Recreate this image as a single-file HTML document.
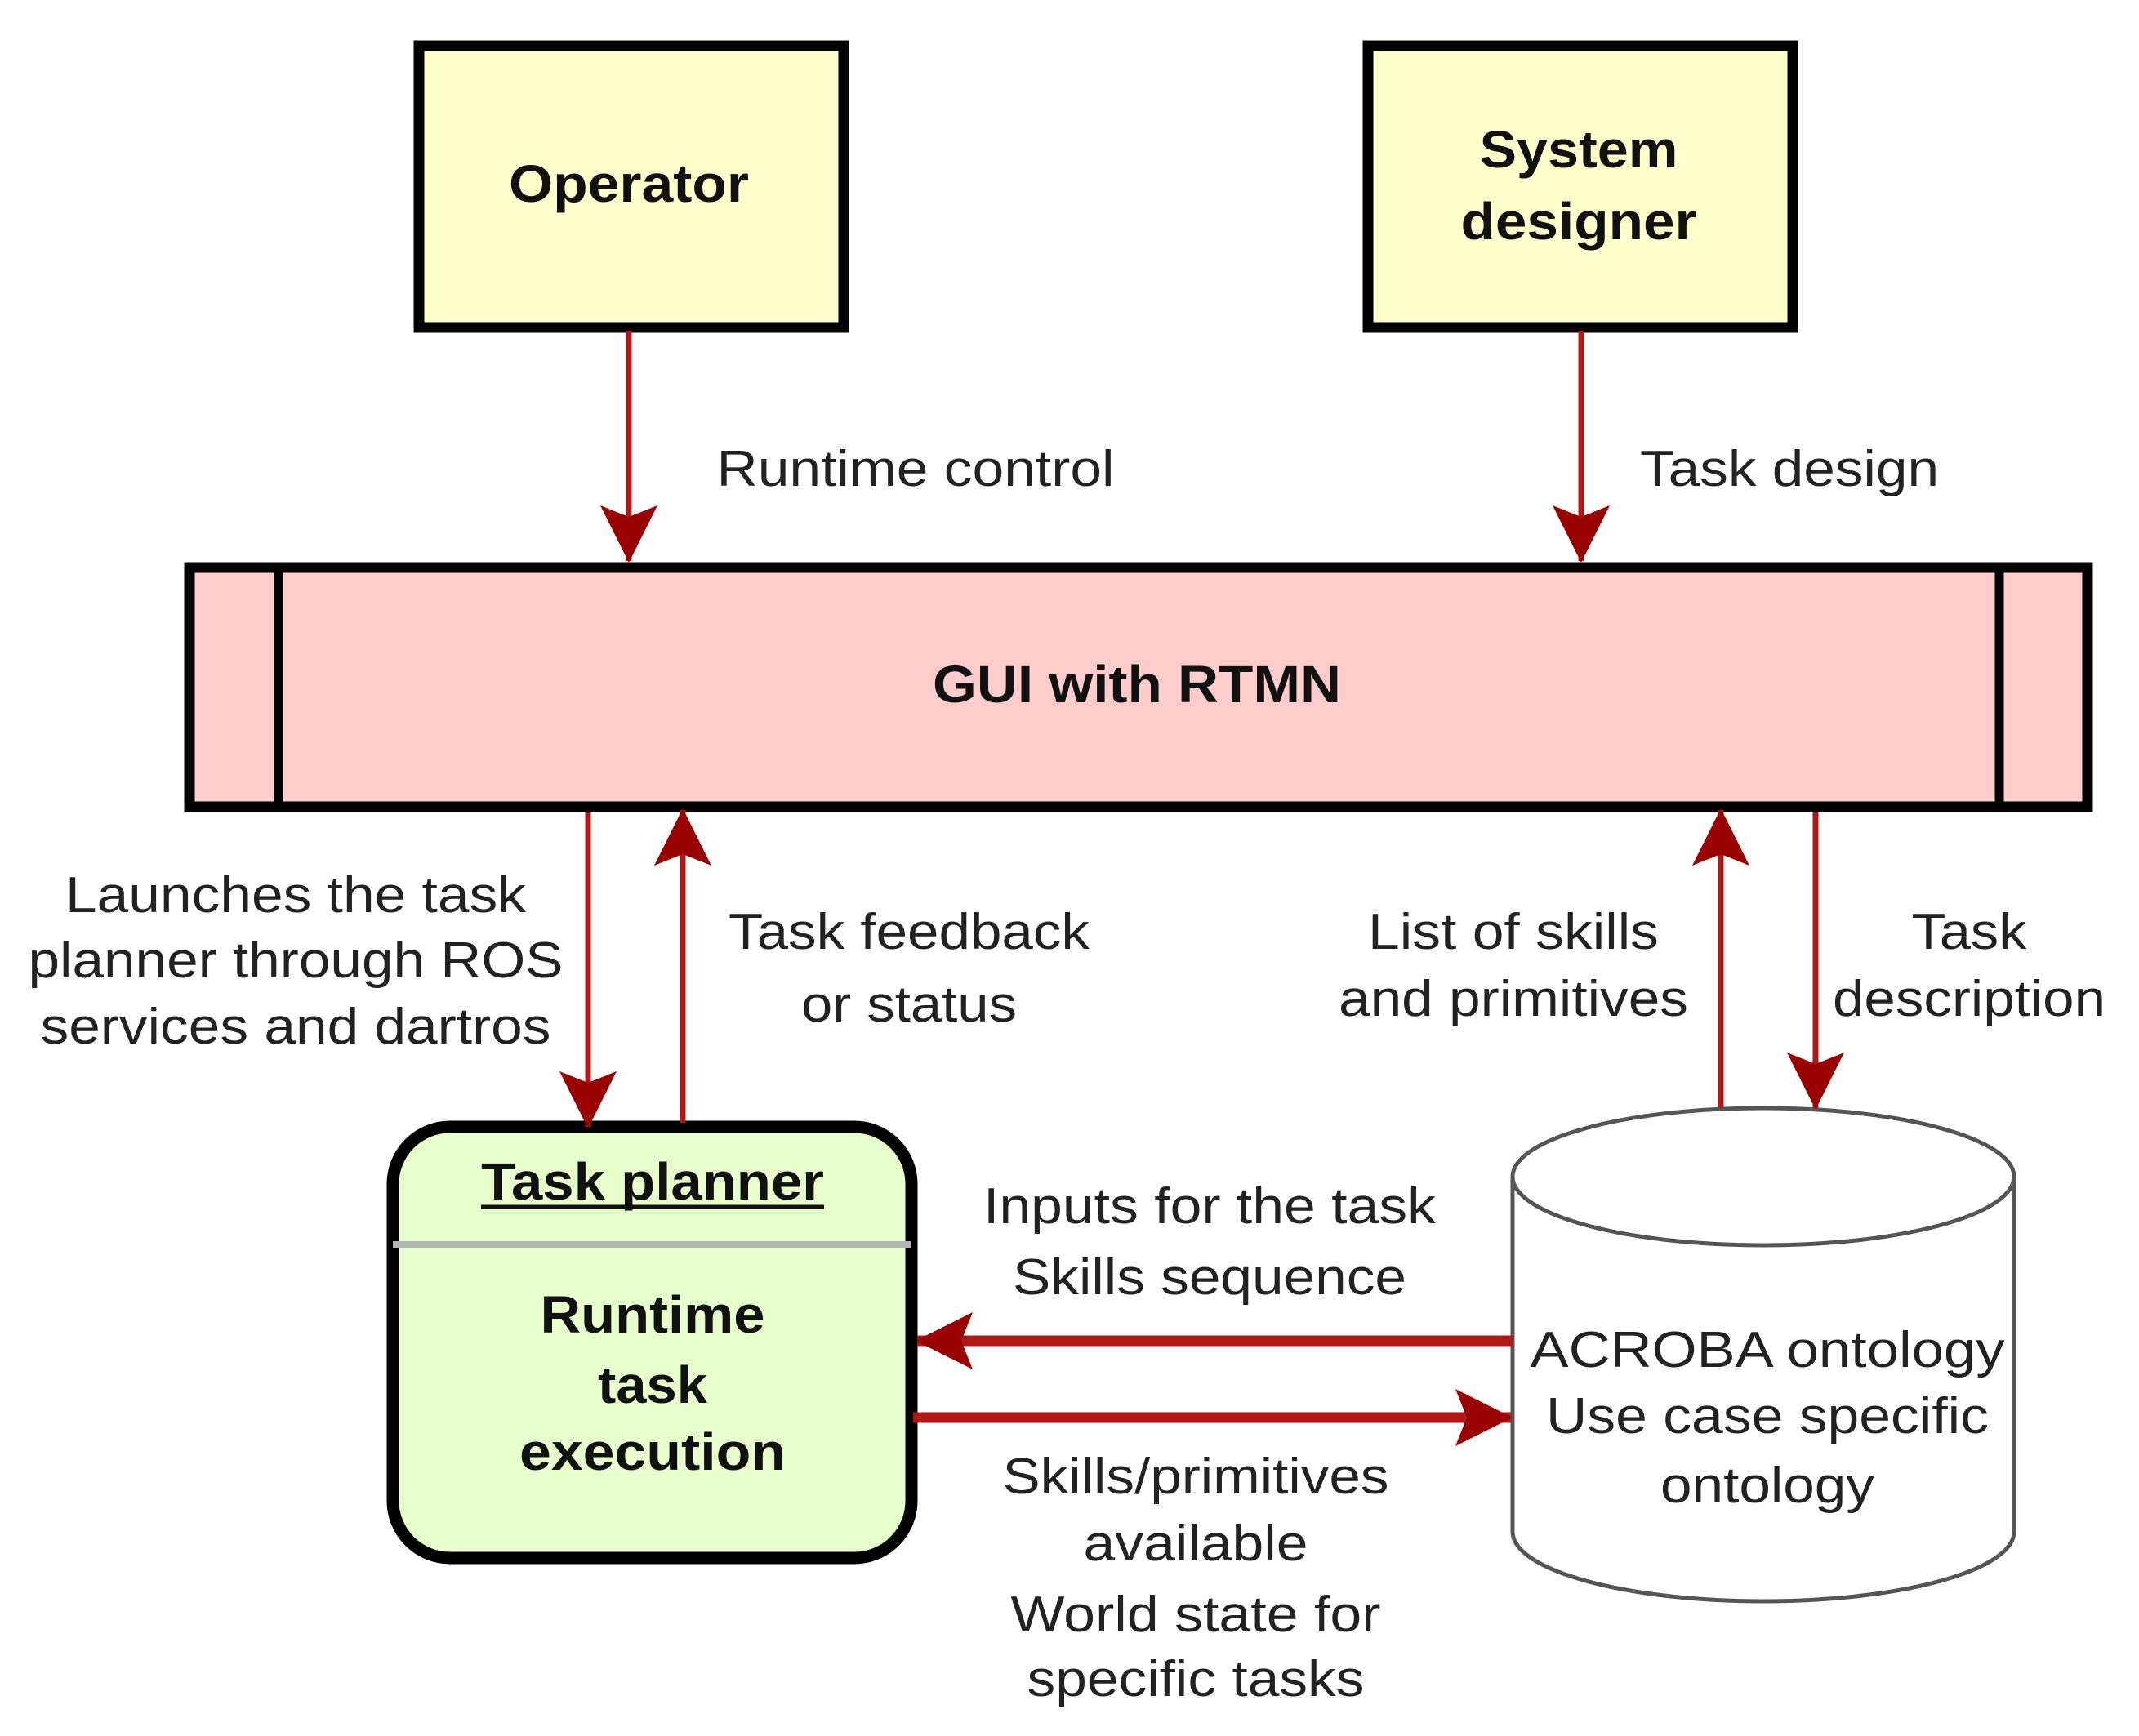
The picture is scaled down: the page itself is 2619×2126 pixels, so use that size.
<!DOCTYPE html>
<html><head><meta charset="utf-8"><style>html,body{margin:0;padding:0;background:#fff}svg{display:block}</style></head>
<body>
<svg width="2619" height="2126" viewBox="0 0 2619 2126" xmlns="http://www.w3.org/2000/svg" font-family="Liberation Sans, sans-serif">
<defs>
<marker id="ah" viewBox="0 0 70 70" refX="68" refY="35" markerWidth="70" markerHeight="70" markerUnits="userSpaceOnUse" orient="auto">
<path d="M0,0 L70,35 L0,70 L14,35 Z" fill="#990000"/>
</marker>
</defs>
<rect x="0" y="0" width="2619" height="2126" fill="#fff"/>
<g transform="translate(-7,-5)">
<rect x="520" y="61" width="520" height="345" fill="#ffffcc" stroke="#000" stroke-width="13"/>
<rect x="1682" y="61" width="520" height="345" fill="#ffffcc" stroke="#000" stroke-width="13"/>
<rect x="239" y="700" width="2324" height="293" fill="#ffcccc" stroke="#000" stroke-width="13"/>
<line x1="348" y1="700" x2="348" y2="993" stroke="#000" stroke-width="11"/>
<line x1="2455" y1="700" x2="2455" y2="993" stroke="#000" stroke-width="11"/>
<rect x="488" y="1385" width="635" height="528" rx="70" ry="70" fill="#e6ffcc" stroke="#000" stroke-width="15"/>
<line x1="488" y1="1529" x2="1123" y2="1529" stroke="#b5b5b5" stroke-width="8"/>
<g transform="translate(5,0)">
<path d="M1854,1446 L1854,1881 A307,85 0 0 0 2468,1881 L2468,1446" fill="#fff" stroke="#555" stroke-width="5"/>
<ellipse cx="2161" cy="1446" rx="307" ry="84" fill="#fff" stroke="#555" stroke-width="5"/>
</g>
<g stroke="#b01818" stroke-width="7" fill="none">
<line x1="777" y1="410" x2="777" y2="692" marker-end="url(#ah)"/>
<line x1="1943" y1="410" x2="1943" y2="692" marker-end="url(#ah)"/>
<line x1="727" y1="1000" x2="727" y2="1385" marker-end="url(#ah)"/>
<line x1="843" y1="1380" x2="843" y2="997" marker-end="url(#ah)"/>
<line x1="2114" y1="1362" x2="2114" y2="997" marker-end="url(#ah)"/>
<line x1="2230" y1="1000" x2="2230" y2="1362" marker-end="url(#ah)"/>
<line x1="1859" y1="1647" x2="1130" y2="1647" stroke-width="13" marker-end="url(#ah)"/>
<line x1="1125" y1="1741" x2="1857" y2="1741" stroke-width="13" marker-end="url(#ah)"/>
</g>
<g font-weight="bold" fill="#111" font-size="64" text-anchor="middle">
<text x="777" y="252" textLength="294" lengthAdjust="spacingAndGlyphs">Operator</text>
<text x="1940" y="210" textLength="243" lengthAdjust="spacingAndGlyphs">System</text>
<text x="1940" y="298" textLength="289" lengthAdjust="spacingAndGlyphs">designer</text>
<text x="1399" y="865" textLength="500" lengthAdjust="spacingAndGlyphs">GUI with RTMN</text>
<text x="806" y="1474" textLength="420" lengthAdjust="spacingAndGlyphs">Task planner</text>
<text x="806" y="1637" textLength="275" lengthAdjust="spacingAndGlyphs">Runtime</text>
<text x="806" y="1723" textLength="134" lengthAdjust="spacingAndGlyphs">task</text>
<text x="806" y="1805" textLength="326" lengthAdjust="spacingAndGlyphs">execution</text>
</g>
<line x1="596" y1="1483" x2="1016" y2="1483" stroke="#111" stroke-width="5"/>
<g fill="#222" font-size="62" text-anchor="middle">
<text x="1128" y="600" textLength="487" lengthAdjust="spacingAndGlyphs">Runtime control</text>
<text x="2198" y="600" textLength="366" lengthAdjust="spacingAndGlyphs">Task design</text>
<text x="369" y="1122" textLength="564" lengthAdjust="spacingAndGlyphs">Launches the task</text>
<text x="369" y="1202" textLength="655" lengthAdjust="spacingAndGlyphs">planner through ROS</text>
<text x="369" y="1283" textLength="625" lengthAdjust="spacingAndGlyphs">services and dartros</text>
<text x="1120" y="1167" textLength="442" lengthAdjust="spacingAndGlyphs">Task feedback</text>
<text x="1120" y="1256" textLength="264" lengthAdjust="spacingAndGlyphs">or status</text>
<text x="1860" y="1167" textLength="356" lengthAdjust="spacingAndGlyphs">List of skills</text>
<text x="1860" y="1249" textLength="428" lengthAdjust="spacingAndGlyphs">and primitives</text>
<text x="2418" y="1167" textLength="141" lengthAdjust="spacingAndGlyphs">Task</text>
<text x="2418" y="1249" textLength="334" lengthAdjust="spacingAndGlyphs">description</text>
<text x="1488" y="1503" textLength="554" lengthAdjust="spacingAndGlyphs">Inputs for the task</text>
<text x="1488" y="1590" textLength="482" lengthAdjust="spacingAndGlyphs">Skills sequence</text>
<text x="2171" y="1679" textLength="581" lengthAdjust="spacingAndGlyphs">ACROBA ontology</text>
<text x="2171" y="1760" textLength="542" lengthAdjust="spacingAndGlyphs">Use case specific</text>
<text x="2171" y="1845" textLength="262" lengthAdjust="spacingAndGlyphs">ontology</text>
<text x="1471" y="1834" textLength="473" lengthAdjust="spacingAndGlyphs">Skills/primitives</text>
<text x="1471" y="1916" textLength="275" lengthAdjust="spacingAndGlyphs">available</text>
<text x="1471" y="2003" textLength="453" lengthAdjust="spacingAndGlyphs">World state for</text>
<text x="1471" y="2082" textLength="413" lengthAdjust="spacingAndGlyphs">specific tasks</text>
</g>
</g>
</svg>
</body></html>
